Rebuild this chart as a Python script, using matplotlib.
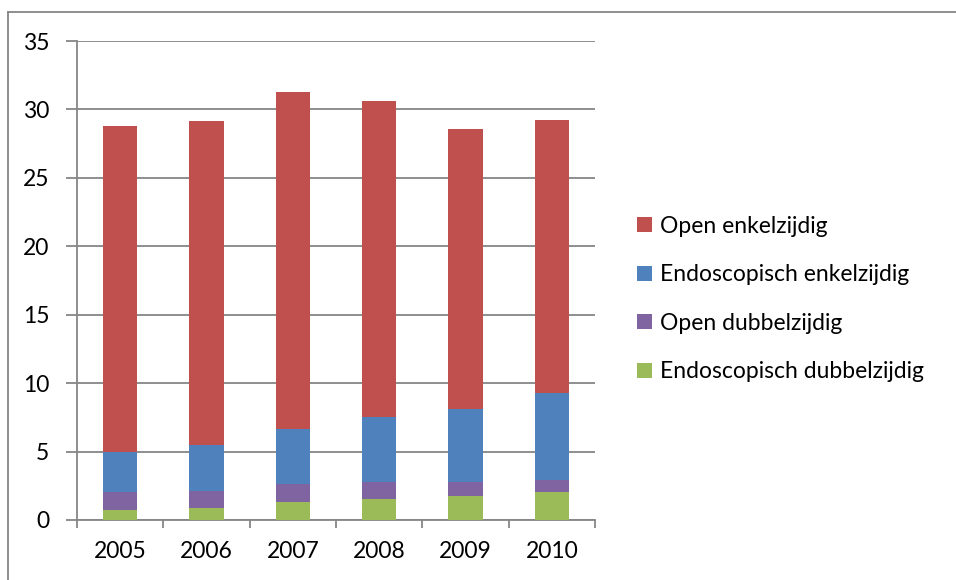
import matplotlib
matplotlib.use('Agg')
import matplotlib.pyplot as plt
import numpy as np
from matplotlib.patches import Patch
from matplotlib.lines import Line2D

plt.rcParams['font.family'] = ['Lato', 'DejaVu Sans']

years = ['2005', '2006', '2007', '2008', '2009', '2010']

# stacked from the bottom up
endo_dubbel = [0.73, 0.88, 1.29, 1.54, 1.76, 2.03]
open_dubbel = [1.29, 1.22, 1.32, 1.22, 1.00, 0.92]
endo_enkel = [2.98, 3.39, 4.07, 4.75, 5.36, 6.34]
open_enkel = [23.80, 23.66, 24.60, 23.10, 20.43, 19.93]

series = [
    ('Endoscopisch dubbelzijdig', endo_dubbel, '#9BBB59'),
    ('Open dubbelzijdig', open_dubbel, '#8064A2'),
    ('Endoscopisch enkelzijdig', endo_enkel, '#4F81BD'),
    ('Open enkelzijdig', open_enkel, '#C0504D'),
]

grey = '#868686'
fs = 16.5

fig = plt.figure(figsize=(9.56, 5.8), dpi=100)
ax = fig.add_axes([77 / 956, 60 / 580, 518 / 956, 479 / 580])

x = np.arange(len(years))
bottom = np.zeros(len(years))
for name, vals, col in series:
    ax.bar(x, vals, width=0.4, bottom=bottom, color=col, label=name, zorder=3)
    bottom += np.array(vals)

ax.set_xlim(-0.5, len(years) - 0.5)
ax.set_ylim(0, 35)
ax.set_yticks(np.arange(0, 36, 5))
ax.yaxis.grid(True, color=grey, linewidth=1.3, zorder=0)
ax.tick_params(axis='y', length=8, width=1.3, color=grey, labelsize=fs, pad=12)

# category boundary ticks, labels centred under the bars
ax.set_xticks(np.arange(-0.5, len(years)), labels=[])
ax.set_xticks(x, labels=years, minor=True)
ax.tick_params(axis='x', which='major', length=6, width=1.3, color=grey)
ax.tick_params(axis='x', which='minor', length=0, labelsize=fs, pad=15)

for side in ['top', 'right']:
    ax.spines[side].set_visible(False)
for side in ['left', 'bottom']:
    ax.spines[side].set_color(grey)
    ax.spines[side].set_linewidth(1.3)

handles = [Patch(facecolor=col) for _, _, col in series][::-1]
labels = [name for name, _, _ in series][::-1]
fig.legend(handles, labels, loc='center left', bbox_to_anchor=(637 / 956, 1 - 299 / 580),
           frameon=False, fontsize=fs, handlelength=0.65, handleheight=0.65,
           handletextpad=0.35, labelspacing=1.2, borderpad=0, borderaxespad=0)

# chart area border
fig.add_artist(Line2D([8 / 956, 1], [1 - 12 / 580] * 2, color=grey, linewidth=1.3))
fig.add_artist(Line2D([8 / 956] * 2, [0, 1 - 12 / 580], color=grey, linewidth=1.3))

fig.savefig('out.png', dpi=100)
